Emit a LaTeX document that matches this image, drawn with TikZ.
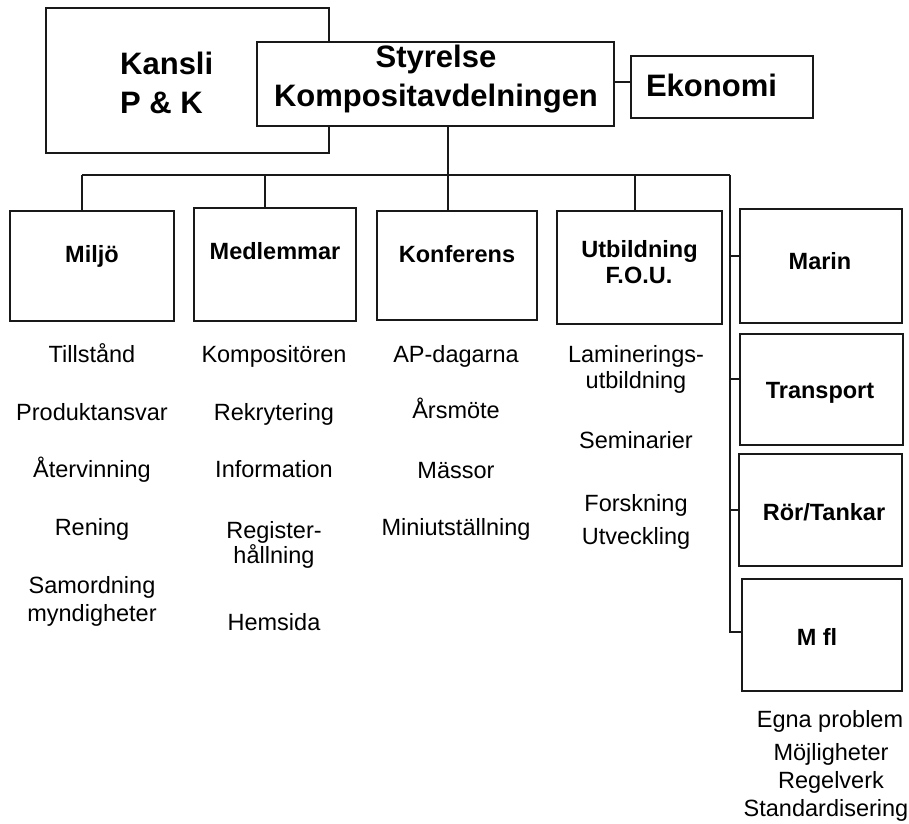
\documentclass[tikz,border=0pt]{standalone}
\usepackage{fontspec}
\setmainfont{Liberation Sans}
\usepackage{tikz}
\usetikzlibrary{calc,positioning}

\tikzset{
  unitbox/.style={draw=black!90,line width=2.5pt,fill=white,inner sep=0pt},
  bigtext/.style={font=\fontsize{31}{37}\selectfont\bfseries,anchor=base,inner sep=0pt},
  boxtext/.style={font=\fontsize{23.5}{28}\selectfont\bfseries,anchor=base,inner sep=0pt},
  item/.style={font=\fontsize{23.5}{28}\selectfont,anchor=base,inner sep=0pt},
  wire/.style={draw=black!90,line width=2.5pt}
}

\begin{document}
\begin{tikzpicture}[x=1pt,y=-1pt]
  \useasboundingbox (0,0) rectangle (909,823);

  % top level
  \node[unitbox,minimum width=283,minimum height=145] (kansli) at (187.5,80.5) {};
  \node[unitbox,minimum width=357,minimum height=84] (styr) at (435.5,84) {};
  \node[unitbox,minimum width=182,minimum height=62] (ekon) at (722,87) {};
  \node[bigtext,anchor=base west] (kansli1) at (120,74) {Kansli};
  \node[bigtext,anchor=base west] (kansli2) at (120,113) {P \& K};
  \node[bigtext] (styr1) at (436,67) {Styrelse};
  \node[bigtext] (styr2) at (436,106) {Kompositavdelningen};
  \node[bigtext] (ekon1) at (711.5,96) {Ekonomi};

  % units
  \foreach \name/\x/\y/\w/\h in {miljo/92/266/164/110,medl/275/264.5/162/113,
      konf/457/265.5/160/109,utb/639.5/267.5/165/113,marin/821/266/162/114,
      transp/821.5/389.5/163/111,ror/820.5/510/163/112,mfl/822/635/160/112}
    \node[unitbox,minimum width=\w,minimum height=\h] (\name) at (\x,\y) {};

  \foreach \name/\x/\y/\txt in {miljo-t/92/262/Miljö,medl-t/275/259/Medlemmar,
      konf-t/457/262/Konferens,utb-t/639.5/257/Utbildning,fou-t/639/283/F.O.U.,
      marin-t/820/269/Marin,transp-t/820/398/Transport,ror-t/824/520/{Rör/Tankar},
      mfl-t/817/645/M fl}
    \node[boxtext] (\name) at (\x,\y) {\txt};

  % tasks under each unit
  \foreach \name/\x/\y/\txt in {a1/92/362/Tillstånd,a2/92/420/Produktansvar,
      a3/92/477/Återvinning,a4/92/535/Rening,a5/92/593/Samordning,a6/92/621/myndigheter,
      b1/274/362/Kompositören,b2/274/420/Rekrytering,b3/274/477/Information,
      b4/274/538/Register-,b5/274/563/hållning,b6/274/630/Hemsida,
      c1/456/362/AP-dagarna,c2/456/418/Årsmöte,c3/456/478/Mässor,c4/456/535/Miniutställning,
      d1/636/362/Laminerings-,d2/636/388/utbildning,d3/636/448/Seminarier,
      d4/636/511/Forskning,d5/636/544/Utveckling,
      e1/830/727/Egna problem,e2/831/760/Möjligheter,e3/831/788/Regelverk,
      e4/826/816/Standardisering}
    \node[item] (\name) at (\x,\y) {\txt};

  % connectors
  \coordinate (ek) at (620,82);
  \coordinate (trunk) at (448,175);
  \coordinate (busl) at (82,175);
  \coordinate (bus2) at (265,175);
  \coordinate (bus4) at (635,175);
  \coordinate (busr) at (730,175);
  \draw[wire] (styr.east |- ek) -- (ekon.west |- ek);
  \draw[wire] (styr.south -| trunk) -- (konf.north -| trunk);
  \draw[wire] (busl) -- (busr);
  \draw[wire] (busl) -- (busl |- miljo.north);
  \draw[wire] (bus2) -- (bus2 |- medl.north);
  \draw[wire] (bus4) -- (bus4 |- utb.north);
  \draw[wire] (busr) -- (730,632) -- (mfl.west |- 0,632);
  \foreach \unit/\yy in {marin/256,transp/379,ror/510}
    \draw[wire] (730,\yy) -- (\unit.west |- 0,\yy);
\end{tikzpicture}
\end{document}
